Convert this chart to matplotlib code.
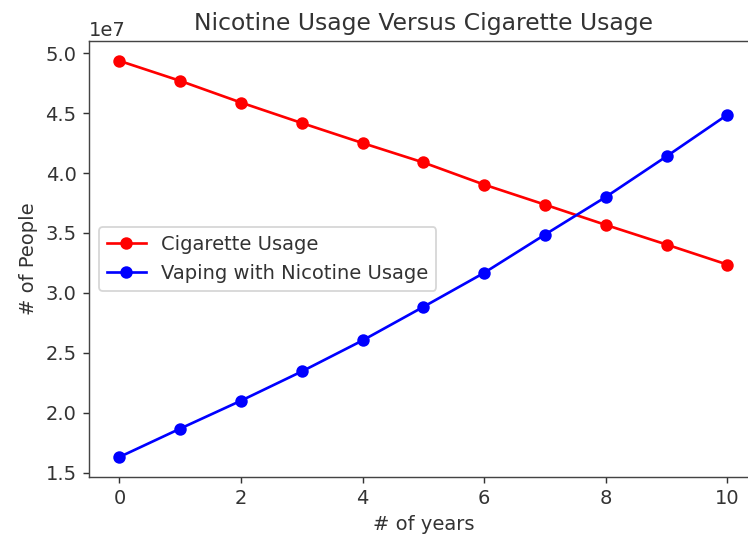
import matplotlib
matplotlib.use("Agg")
import matplotlib.pyplot as plt

years = [0, 1, 2, 3, 4, 5, 6, 7, 8, 9, 10]
cigarette = [4.936e7, 4.769e7, 4.588e7, 4.417e7, 4.25e7, 4.088e7, 3.903e7, 3.736e7, 3.567e7, 3.403e7, 3.236e7]
vaping = [1.63e7, 1.867e7, 2.10e7, 2.344e7, 2.603e7, 2.883e7, 3.167e7, 3.486e7, 3.80e7, 4.139e7, 4.486e7]

tc = '#333333'
plt.rcParams.update({
    'font.size': 11,
    'text.color': tc, 'axes.labelcolor': tc, 'xtick.color': tc, 'ytick.color': tc,
    'axes.edgecolor': '#444444',
})

fig = plt.figure(figsize=(748/128, 540/128), dpi=128)
ax = fig.add_axes([0.119, 0.117, 0.894, 0.807])
ax.plot(years, cigarette, 'o-', color='red', label='Cigarette Usage')
ax.plot(years, vaping, 'o-', color='blue', label='Vaping with Nicotine Usage')
ax.set_title('Nicotine Usage Versus Cigarette Usage')
ax.set_xlabel('# of years')
ax.set_ylabel('# of People')
ax.set_yticks([1.5e7, 2.0e7, 2.5e7, 3.0e7, 3.5e7, 4.0e7, 4.5e7, 5.0e7])
ax.legend(loc='center left')
fig.savefig('out.png', dpi=128)
